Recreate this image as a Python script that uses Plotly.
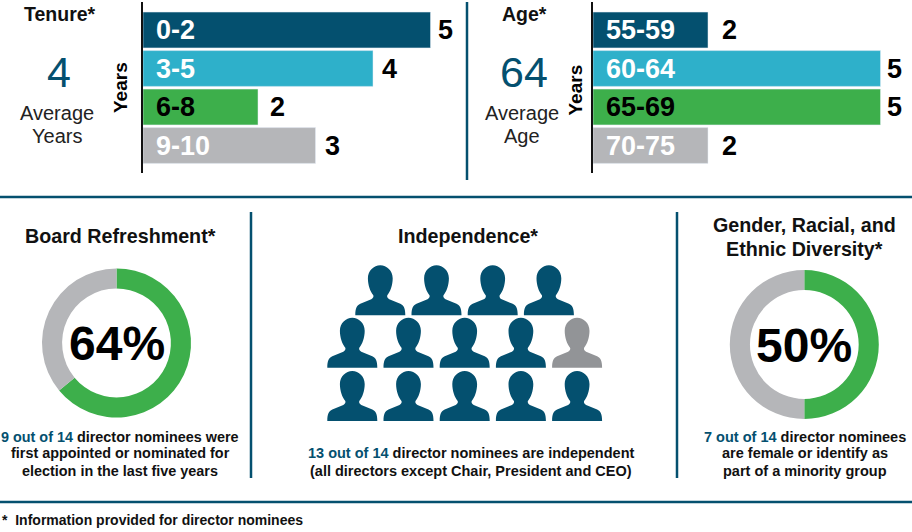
import plotly.graph_objects as go

W = 912
H = 532

DARK = "#04506F"
CYAN = "#2EB0CA"
GREEN = "#3DAF4B"
GREY = "#B5B6B9"
ICON_GREY = "#929497"
FONT = "Liberation Sans"

tenure_labels = ["0-2", "3-5", "6-8", "9-10"]
tenure_values = [5, 4, 2, 3]
age_labels = ["55-59", "60-64", "65-69", "70-75"]
age_values = [2, 5, 5, 2]
bar_colors = [DARK, CYAN, GREEN, GREY]
label_colors = ["white", "white", "black", "white"]

# gap in pixels between bar end and value label, not even in the original
tenure_gaps = [8, 10, 13, 10]
age_gaps = [15, 7, 7, 15]

refresh_values = [64, 36]
diversity_values = [50, 50]

independent_rows = [4, 5, 5]
non_independent_pos = (1, 4)  # row, column of the grey icon

# person icon, pixels relative to top centre of the icon, y going up
PERSON = ("M -12.4 -13 C -12.4 -5.5 -6.5 0 0 0 C 6.5 0 12.4 -5.5 12.4 -13 "
          "C 12.4 -20 10 -26.5 7 -30 C 6.5 -31 7 -33 9 -34 L 20 -38.5 "
          "C 23.5 -40 25 -43 25 -50 L -25 -50 C -25 -43 -23.5 -40 -20 -38.5 "
          "L -9 -34 C -7 -33 -6.5 -31 -7 -30 C -10 -26.5 -12.4 -20 -12.4 -13 Z")


def px(x):
    return x / W


def py(y):
    return 1 - y / H


def addText(fig, x, y, text, size, color="#000000", bold=False, angle=0):
    if bold:
        text = "<b>" + text + "</b>"
    fig.add_annotation(xref="paper", yref="paper", x=px(x), y=py(y), text=text,
                       xanchor="center", yanchor="middle",
                       showarrow=False, align="center", textangle=angle,
                       font=dict(family=FONT, size=size, color=color))


# one annotation per line, the original line spacing is tighter than plotly's
def addLines(fig, x, ys, lines, size, bold=False, color="#000000"):
    for y, line in zip(ys, lines):
        addText(fig, x, y, line, size, bold=bold, color=color)


def addRule(fig, x0, y0, x1, y1):
    fig.add_shape(type="line", xref="paper", yref="paper",
                  x0=px(x0), y0=py(y0), x1=px(x1), y1=py(y1),
                  line=dict(color=DARK, width=2.5))


def addBars(fig, labels, values, gaps, axis, left, right):
    xname = "x" + axis
    yname = "y" + axis
    fig.add_trace(go.Bar(x=values, y=labels, orientation="h", xaxis=xname, yaxis=yname,
                         marker=dict(color=bar_colors), width=0.93, hoverinfo="skip"))
    fig.update_layout({
        "xaxis" + axis: dict(domain=[px(left), px(right)], range=[0, (right - left) / 57.5],
                             visible=False, anchor=yname),
        "yaxis" + axis: dict(domain=[py(173), py(2)], range=[3.714, -0.727], type="category",
                             categoryorder="array", categoryarray=labels, anchor=xname,
                             showticklabels=False, ticks="", showgrid=False, showline=True,
                             linecolor="#111111", linewidth=2, zeroline=False),
    })
    for i in range(len(labels)):
        fig.add_annotation(xref=xname, yref=yname, x=0, y=labels[i], xshift=11, xanchor="left",
                           text="<b>" + labels[i] + "</b>", showarrow=False,
                           font=dict(family=FONT, size=27, color=label_colors[i]))
        fig.add_annotation(xref=xname, yref=yname, x=values[i], y=labels[i], xshift=gaps[i] - 3,
                           xanchor="left", text="<b>" + str(values[i]) + "</b>", showarrow=False,
                           font=dict(family=FONT, size=27, color="#000000"))


def addDonut(fig, values, cx, cy, r):
    fig.add_trace(go.Pie(values=values, sort=False, direction="clockwise", rotation=0, hole=0.73,
                         marker=dict(colors=[GREEN, GREY], line=dict(width=0)),
                         textinfo="none", hoverinfo="skip", showlegend=False,
                         domain=dict(x=[px(cx - r), px(cx + r)], y=[py(cy + r), py(cy - r)])))


def addPeople(fig):
    row_left = [380.3, 352.3, 352.3]
    row_top = [265.3, 317.7, 371]
    for r in range(len(independent_rows)):
        for c in range(independent_rows[r]):
            color = ICON_GREY if (r, c) == non_independent_pos else DARK
            fig.add_shape(type="path", xref="paper", yref="paper", xsizemode="pixel", ysizemode="pixel",
                          xanchor=px(row_left[r] + 56.2 * c), yanchor=py(row_top[r]),
                          path=PERSON, fillcolor=color, line=dict(width=0))


fig = go.Figure()

addBars(fig, tenure_labels, tenure_values, tenure_gaps, "", 143, 460)
addBars(fig, age_labels, age_values, age_gaps, "2", 593, 912)
addDonut(fig, refresh_values, 116.5, 343, 74.5)
addDonut(fig, diversity_values, 804.3, 344.5, 74.5)
addPeople(fig)

addRule(fig, 467, 2, 467, 180)
addRule(fig, 0, 197, 912, 197)
addRule(fig, 251, 212, 251, 478)
addRule(fig, 677, 212, 677, 478)
addRule(fig, 0, 502, 912, 502)

addText(fig, 60, 14, "Tenure*", 19.5, bold=True, color="#111111")
addText(fig, 59, 72, "4", 43, color=DARK)
addLines(fig, 57, [113, 136], ["Average", "Years"], 20, color="#222222")
addText(fig, 120, 88, "Years", 19, bold=True, angle=-90)

addText(fig, 524, 14, "Age*", 19.5, bold=True, color="#111111")
addText(fig, 524, 72, "64", 43, color=DARK)
addLines(fig, 522, [113, 136], ["Average", "Age"], 20, color="#222222")
addText(fig, 574.5, 90, "Years", 19, bold=True, angle=-90)

addText(fig, 120, 236, "Board Refreshment*", 19.7, bold=True, color="#111111")
addText(fig, 468, 236, "Independence*", 19.7, bold=True, color="#111111")
addLines(fig, 804, [225, 249], ["Gender, Racial, and", "Ethnic Diversity*"], 19.7, bold=True, color="#111111")

addText(fig, 116.5, 343, "64%", 48, bold=True)
addText(fig, 804.3, 345, "50%", 48, bold=True)

teal = '<span style="color:%s">%%s</span>' % DARK
addLines(fig, 120, [437, 453, 471],
         [teal % "9 out of 14" + " director nominees were",
          "first appointed or nominated for",
          "election in the last five years"], 14.4, bold=True, color="#111111")
addLines(fig, 471, [453, 471],
         [teal % "13 out of 14" + " director nominees are independent",
          "(all directors except Chair, President and CEO)"], 14.5, bold=True, color="#111111")
addLines(fig, 804.5, [437, 453, 471],
         [teal % "7 out of 14" + " director nominees",
          "are female or identify as",
          "part of a minority group"], 14.5, bold=True, color="#111111")

addText(fig, 152, 520, "*&nbsp;&nbsp;Information provided for director nominees", 14, bold=True, color="#111111")

fig.update_layout(width=W, height=H, margin=dict(l=0, r=0, t=0, b=0),
                  paper_bgcolor="white", plot_bgcolor="white", showlegend=False,
                  bargap=0.07)

fig.write_html("out.html", config={"displayModeBar": False},
               post_script="document.body.style.margin='0';window.dispatchEvent(new Event('resize'));")
